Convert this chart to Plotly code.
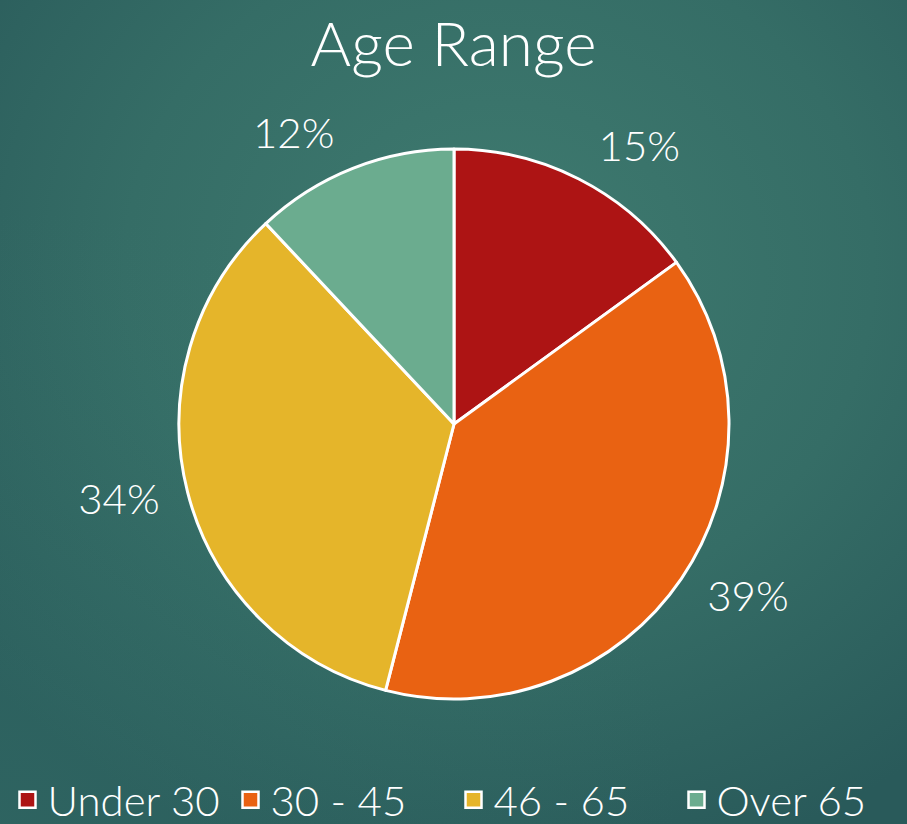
import plotly.graph_objects as go
import urllib.parse

categories = ["Under 30", "30 - 45", "46 - 65", "Over 65"]
values = [15, 39, 34, 12]
colors = ["#AD1414", "#E96212", "#E5B52A", "#6BAC8F"]

FONT = "Lato"
W, H = 907, 824

svg = (
    "<svg xmlns='http://www.w3.org/2000/svg' width='907' height='824'>"
    "<defs>"
    "<radialGradient id='g' cx='0.55' cy='0.33' r='0.75'>"
    "<stop offset='0' stop-color='#3f7b70'/>"
    "<stop offset='0.55' stop-color='#356d66'/>"
    "<stop offset='1' stop-color='#295a5a'/>"
    "</radialGradient>"
    "<radialGradient id='h' cx='0.0' cy='1.0' r='0.75'>"
    "<stop offset='0' stop-color='#3a7a70' stop-opacity='0.3'/>"
    "<stop offset='1' stop-color='#3a7a70' stop-opacity='0'/>"
    "</radialGradient>"
    "</defs>"
    "<rect width='907' height='824' fill='url(#g)'/>"
    "<rect width='907' height='824' fill='url(#h)'/>"
    "</svg>"
)
bg_uri = "data:image/svg+xml;charset=utf-8," + urllib.parse.quote(svg)

cx, cy, r = 454, 424, 275
r_lab = r + 16

fig = go.Figure()

# main pie (no text)
fig.add_trace(
    go.Pie(
        labels=categories,
        values=values,
        sort=False,
        direction="clockwise",
        rotation=0,
        marker=dict(colors=colors, line=dict(color="white", width=3)),
        textinfo="none",
        domain=dict(x=[(cx - r) / W, (cx + r) / W], y=[1 - (cy + r) / H, 1 - (cy - r) / H]),
        showlegend=False,
        hoverinfo="label+percent",
    )
)

# transparent larger pie carrying the outside percentage labels
fig.add_trace(
    go.Pie(
        labels=categories,
        values=values,
        sort=False,
        direction="clockwise",
        rotation=0,
        marker=dict(colors=["rgba(0,0,0,0)"] * len(values), line=dict(width=0)),
        textposition="outside",
        texttemplate="%{percent:.0%}",
        textfont=dict(family=FONT, size=42, color="white", weight=300),
        domain=dict(x=[(cx - r_lab) / W, (cx + r_lab) / W], y=[1 - (cy + r_lab) / H, 1 - (cy - r_lab) / H]),
        showlegend=False,
        hoverinfo="skip",
        automargin=False,
    )
)

# legend entries
for cat, col in zip(categories, colors):
    fig.add_trace(
        go.Scatter(
            x=[None],
            y=[None],
            mode="markers",
            name=cat,
            marker=dict(symbol="square", size=16, color=col, line=dict(color="white", width=2.5)),
        )
    )

fig.update_layout(
    width=W,
    height=H,
    margin=dict(l=0, r=0, t=0, b=0, autoexpand=False),
    paper_bgcolor="#2f645f",
    plot_bgcolor="rgba(0,0,0,0)",
    xaxis=dict(visible=False),
    yaxis=dict(visible=False),
    title=dict(
        text="Age Range",
        x=0.5,
        xanchor="center",
        y=0.946,
        yanchor="middle",
        font=dict(family=FONT, size=62, color="white", weight=300),
    ),
    legend=dict(
        orientation="h",
        x=0.5,
        xanchor="center",
        y=-0.012,
        yanchor="bottom",
        font=dict(family=FONT, size=42, color="white", weight=300),
        bgcolor="rgba(0,0,0,0)",
        itemsizing="trace",
        entrywidth=178,
        entrywidthmode="pixels",
    ),
    images=[
        dict(
            source=bg_uri,
            xref="paper",
            yref="paper",
            x=0,
            y=1,
            sizex=1,
            sizey=1,
            sizing="stretch",
            layer="below",
            xanchor="left",
            yanchor="top",
        )
    ],
)

fig.write_html(
    "out.html",
    config={"displayModeBar": False},
    post_script="document.body.style.margin='0';document.body.style.overflow='hidden';",
)
